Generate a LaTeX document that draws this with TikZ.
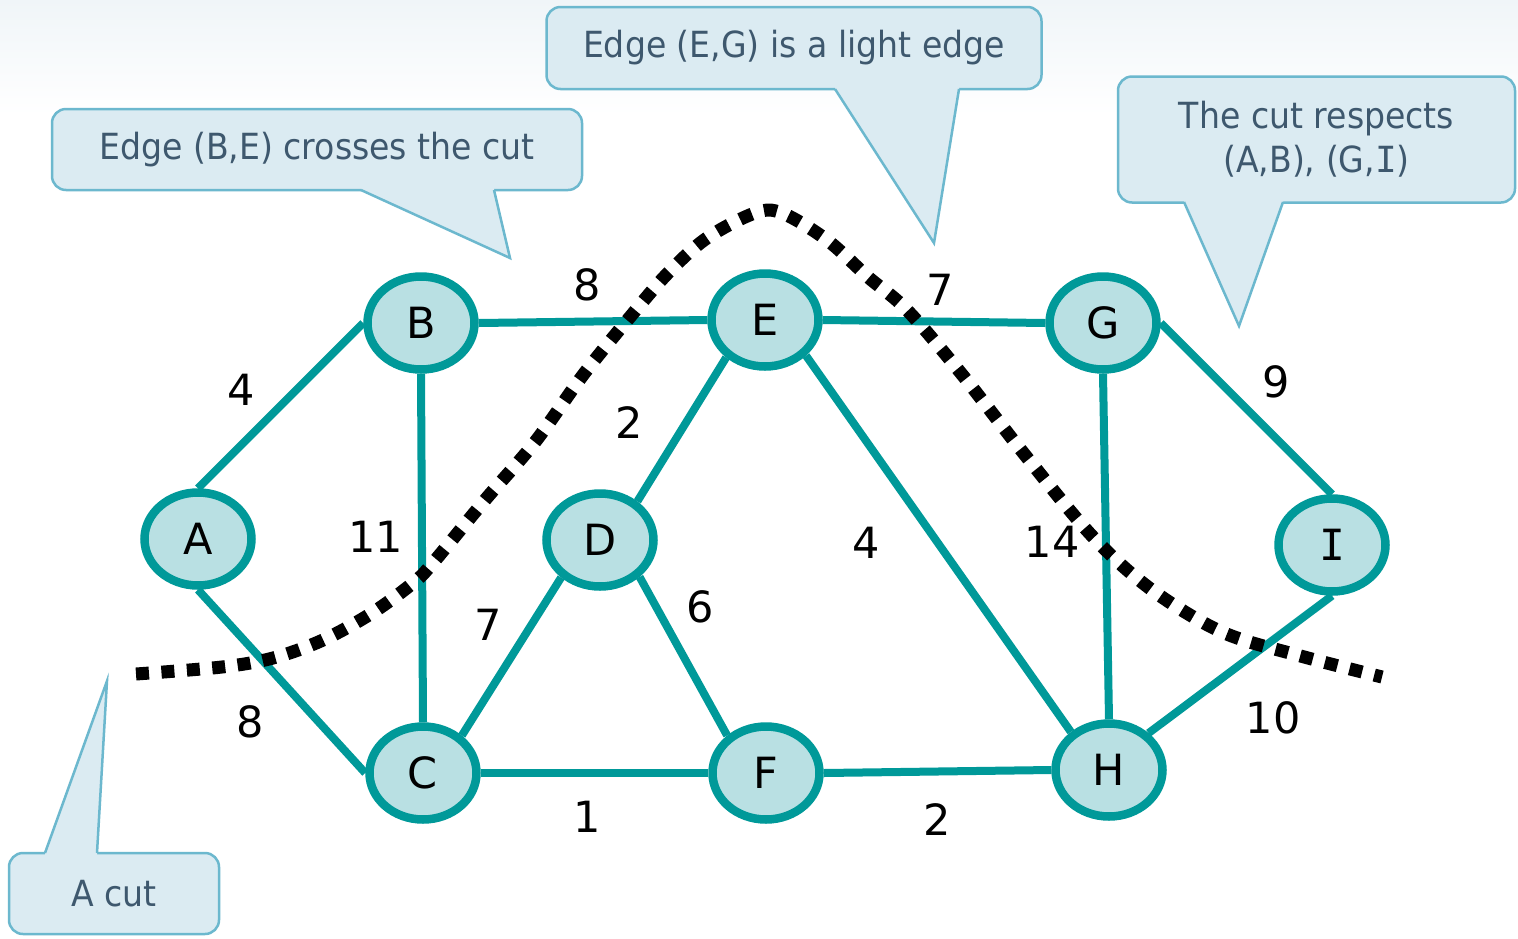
\documentclass[tikz,border=0pt]{standalone}
\usepackage{fontspec}
\setmainfont{DejaVu Sans}
\newfontfamily\notefont[FakeStretch=0.92]{DejaVu Sans}
\newfontfamily\barI{DejaVu Sans Mono}
\usetikzlibrary{shapes.geometric}

\definecolor{edgeteal}{RGB}{0,153,153}
\definecolor{vertexfill}{RGB}{185,224,227}
\definecolor{notefill}{RGB}{219,235,242}
\definecolor{noteline}{RGB}{108,184,206}
\definecolor{notetext}{RGB}{62,88,110}
\definecolor{haze}{RGB}{240,245,248}

\tikzset{
  vertex/.style={ellipse, draw=edgeteal, fill=vertexfill, line width=8.5pt,
    minimum width=107pt, minimum height=93pt, inner sep=0pt,
    font=\fontsize{43}{50}\selectfont},
  link/.style={draw=edgeteal, line width=8pt},
  weight/.style={inner sep=0pt, font=\fontsize{43}{50}\selectfont},
  notebox/.style={rectangle, rounded corners=14pt, draw=noteline, fill=notefill,
    line width=2.5pt, text=notetext, align=center, inner sep=0pt,
    font=\notefont\fontsize{36}{44}\selectfont},
  tailfill/.style={fill=notefill},
  tailline/.style={draw=noteline, line width=2.5pt, line join=miter},
  cutline/.style={line width=13pt, dash pattern=on 13pt off 12.5pt}
}

\begin{document}
\begin{tikzpicture}[x=1pt, y={(0,-1pt)}]
\useasboundingbox (0,0) rectangle (1518,938);
\fill[white] (0,0) rectangle (1518,938);
\shade[top color=haze, bottom color=white] (0,0) rectangle (1518,115);

% vertices
\node[vertex] (A) at (198,539) {A};
\node[vertex] (B) at (421,323) {B};
\node[vertex] (C) at (423,773) {C};
\node[vertex] (D) at (600,540) {D};
\node[vertex] (E) at (765,320) {E};
\node[vertex] (F) at (766,773) {F};
\node[vertex] (G) at (1103,323) {G};
\node[vertex] (H) at (1109,770) {H};
\node[vertex] (I) at (1332,545) {\barI I};

% edges
\draw[link] (A.north) -- (B.west);
\draw[link] (A.south) -- (C.west);
\draw[link] (B.east) -- (E.west);
\draw[link] (B.south) -- (C.north);
\draw[link] (C.44) -- (D.224);
\draw[link] (C.east) -- (F.west);
\draw[link] (D.46) -- (E.224);
\draw[link] (D.317) -- (F.136);
\draw[link] (E.east) -- (G.west);
\draw[link] (E.319) -- (H.135);
\draw[link] (F.east) -- (H.west);
\draw[link] (G.south) -- (H.north);
\draw[link] (G.east) -- (I.north);
\draw[link] (H.43) -- (I.south);

% edge weights
\node[weight] (wAB) at (241,390) {4};
\node[weight] (wAC) at (250,722) {8};
\node[weight] (wBE) at (587,285) {8};
\node[weight] (wBC) at (376,537) {11};
\node[weight] (wDE) at (629,423) {2};
\node[weight] (wCD) at (488,625) {7};
\node[weight] (wDF) at (700,607) {6};
\node[weight] (wCF) at (587,817) {1};
\node[weight] (wEH) at (866,543) {4};
\node[weight] (wEG) at (940,290) {7};
\node[weight] (wGH) at (1052,542) {14};
\node[weight] (wGI) at (1276,382) {9};
\node[weight] (wHI) at (1273,718) {10};
\node[weight] (wFH) at (937,820) {2};

% the cut
\draw[cutline] plot[smooth, tension=0.55] coordinates {
  (136,674) (222,667) (273,658) (323,640) (372,613) (413,583) (432,564)
  (485,500) (535,442) (583,375) (630,317) (668,273) (707,238) (755,213)
  (782,213) (827,240) (868,277) (907,310) (960,372) (1025,455) (1093,537)
  (1152,590) (1222,632) (1297,655) (1382,677)};

% callouts
\node[notebox, minimum width=530pt, minimum height=81pt] (n1) at (317,149.5)
  {\raisebox{-3pt}{Edge (B,E) crosses the cut}};
\coordinate (t1) at (510,258);
\fill[tailfill] (361,187) -- (361,190) -- (t1) -- (494,190) -- (494,187) -- cycle;
\draw[tailline] (361,190) -- (t1) -- (494,190);

\node[notebox, minimum width=495pt, minimum height=82pt] (n2) at (794,48)
  {\raisebox{-3pt}{Edge (E,G) is a light edge}};
\coordinate (t2) at (934,243);
\fill[tailfill] (835,86) -- (835,89) -- (t2) -- (959,89) -- (959,86) -- cycle;
\draw[tailline] (835,89) -- (t2) -- (959,89);

\node[notebox, minimum width=397pt, minimum height=126pt] (n3) at (1316.5,139.5)
  {The cut respects\\(A,B), (G,{\barI I})};
\coordinate (t3) at (1239,326);
\fill[tailfill] (1184,199) -- (1184,202) -- (t3) -- (1283,202) -- (1283,199) -- cycle;
\draw[tailline] (1184,202) -- (t3) -- (1283,202);

\node[notebox, minimum width=210pt, minimum height=81pt] (n4) at (114,893.5)
  {\raisebox{-2pt}{A cut}};
\coordinate (t4) at (107,681);
\fill[tailfill] (45,856) -- (45,853) -- (t4) -- (97,853) -- (97,856) -- cycle;
\draw[tailline] (45,853) -- (t4) -- (97,853);
\end{tikzpicture}
\end{document}
